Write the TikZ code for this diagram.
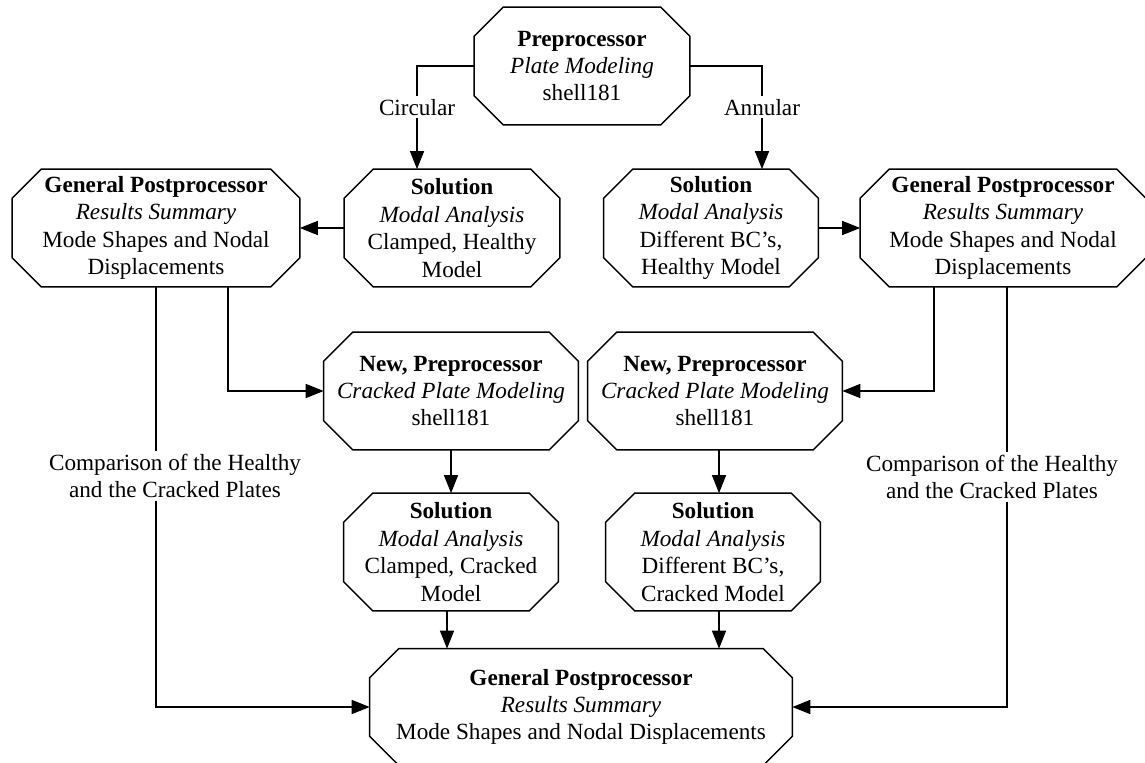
\documentclass[tikz,border=0pt]{standalone}
\usepackage{fontspec}
\setmainfont{Liberation Serif}
\usepackage{tikz}
\usetikzlibrary{arrows.meta}

\tikzset{
    octbox/.style={rectangle,align=center,inner sep=0pt,minimum height=2.34cm},
    lbl/.style={fill=white,align=center,inner sep=1.5pt}
}

\begin{document}
\begin{tikzpicture}[x=0.02cm,y=-0.02cm,font=\fontsize{13.2}{15.6}\selectfont]
                \useasboundingbox (0,0) rectangle (1145,763);
                \begin{scope}[every node/.style={octbox}]
                    \node[minimum width=4.3cm] (pre) at (582,66) {\textbf{Preprocessor}\\\textit{Plate Modeling}\\shell181};
                    \node[minimum width=4.3cm] (solHA) at (452,228) {\textbf{Solution}\\\textit{Modal Analysis}\\Clamped, Healthy\\Model};
                    \node[minimum width=5.74cm] (gpL) at (156,228) {\textbf{General Postprocessor}\\\textit{Results Summary}\\Mode Shapes and Nodal\\Displacements};
                    \node[minimum width=4.28cm] (solHB) at (711,228) {\textbf{Solution}\\\textit{Modal Analysis}\\Different BC's,\\Healthy Model};
                    \node[minimum width=5.7cm] (gpR) at (1003,228) {\textbf{General Postprocessor}\\\textit{Results Summary}\\Mode Shapes and Nodal\\Displacements};
                    \node[minimum width=5.08cm] (npL) at (451,391) {\textbf{New, Preprocessor}\\\textit{Cracked Plate Modeling}\\shell181};
                    \node[minimum width=5.08cm] (npR) at (715,391) {\textbf{New, Preprocessor}\\\textit{Cracked Plate Modeling}\\shell181};
                    \node[minimum width=4.28cm] (scL) at (451,552) {\textbf{Solution}\\\textit{Modal Analysis}\\Clamped, Cracked\\Model};
                    \node[minimum width=4.28cm] (scR) at (713,552) {\textbf{Solution}\\\textit{Modal Analysis}\\Different BC's,\\Cracked Model};
                    \node[minimum width=8.44cm,minimum height=2.32cm] (fin) at (581,707) {\textbf{General Postprocessor}\\\textit{Results Summary}\\Mode Shapes and Nodal Displacements};
                \end{scope}
                % octagon outlines round the boxes
                \foreach \n in {pre,solHA,gpL,solHB,gpR,npL,npR,scL,scR,fin}
                    \draw[line width=0.8pt] ([xshift=0.58cm]\n.north west) -- ([xshift=-0.58cm]\n.north east)
                        -- ([yshift=-0.58cm]\n.north east) -- ([yshift=0.58cm]\n.south east)
                        -- ([xshift=-0.58cm]\n.south east) -- ([xshift=0.58cm]\n.south west)
                        -- ([yshift=0.58cm]\n.south west) -- ([yshift=-0.58cm]\n.north west) -- cycle;
                \begin{scope}[>={Triangle[length=0.36cm,width=0.28cm]},
                    line width=0.8pt]
                    \draw [->] (pre.west) -| node[lbl,pos=0.7] {Circular} ([xshift=-0.7cm]solHA.north);
                    \draw [->] (pre.east) -| node[lbl,pos=0.7] {Annular} ([xshift=1.02cm]solHB.north);
                    \draw [->] (solHA) -- (gpL);
                    \draw [->] (solHB) -- (gpR);
                    \draw [->] ([xshift=1.44cm]gpL.south) |- (npL.west);
                    \draw [->] ([xshift=-1.38cm]gpR.south) |- (npR.east);
                    \draw [->] (gpL.south) |- (fin.west);
                    \draw [->] ([xshift=0.08cm]gpR.south) |- (fin.east);
                    \draw [->] (npL) -- (npL |- scL.north);
                    \draw [->] ([xshift=0.08cm]npR.south) -- ([xshift=0.08cm]npR.south |- scR.north);
                    \draw [->] ([xshift=-0.08cm]scL.south) -- ([xshift=-0.08cm]scL.south |- fin.north);
                    \draw [->] ([xshift=0.12cm]scR.south) -- ([xshift=0.12cm]scR.south |- fin.north);
                \end{scope}
                % labels on the long branches
                \node[lbl] (cmpL) at (175,476) {Comparison of the Healthy\\and the Cracked Plates};
                \node[lbl] (cmpR) at (992,477) {Comparison of the Healthy\\and the Cracked Plates};
            \end{tikzpicture}
\end{document}
